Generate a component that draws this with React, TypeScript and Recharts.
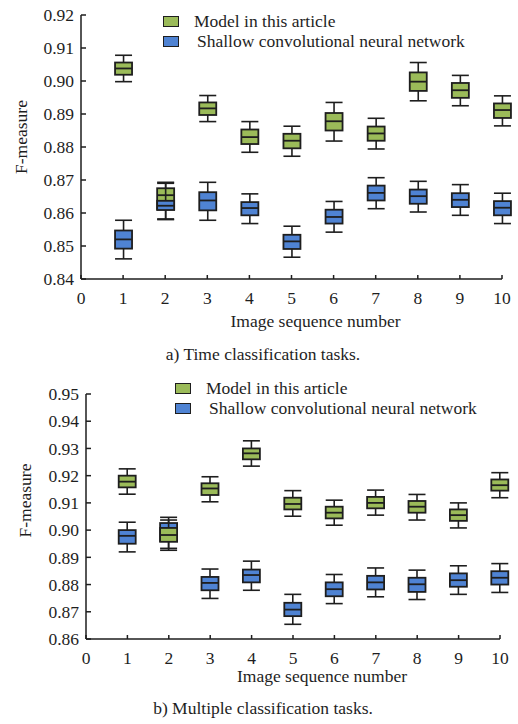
import { ComposedChart, Bar, XAxis, YAxis, Legend, Label } from 'recharts';

const SEQ = [1, 2, 3, 4, 5, 6, 7, 8, 9, 10];
const X_TICKS = [0, 1, 2, 3, 4, 5, 6, 7, 8, 9, 10];
const A_TICKS = [0.84, 0.85, 0.86, 0.87, 0.88, 0.89, 0.9, 0.91, 0.92];
const B_TICKS = [0.86, 0.87, 0.88, 0.89, 0.9, 0.91, 0.92, 0.93, 0.94, 0.95];
const SERIES_NAMES = ['Model in this article', 'Shallow convolutional neural network'];
const SERIES_COLORS = ['#9bbb59', '#4f83d3'];

// each entry: [min, q1, median, q3, max]
const A_MODEL = [
  [0.8998, 0.9019, 0.9038, 0.9056, 0.9078],
  [0.8582, 0.8612, 0.8654, 0.8675, 0.8693],
  [0.8877, 0.8897, 0.8917, 0.8935, 0.8956],
  [0.8784, 0.8809, 0.883, 0.8853, 0.8877],
  [0.8772, 0.8796, 0.8819, 0.884, 0.8863],
  [0.8818, 0.885, 0.8878, 0.8903, 0.8935],
  [0.8794, 0.8819, 0.8841, 0.8862, 0.8887],
  [0.894, 0.897, 0.8998, 0.9026, 0.9056],
  [0.8925, 0.8949, 0.8972, 0.8994, 0.9017],
  [0.8864, 0.8888, 0.8912, 0.8932, 0.8955],
];
const A_CNN = [
  [0.8461, 0.8492, 0.852, 0.8547, 0.8578],
  [0.858, 0.8609, 0.8622, 0.8637, 0.869],
  [0.8578, 0.8608, 0.8638, 0.8663, 0.8693],
  [0.8568, 0.8593, 0.8615, 0.8633, 0.8658],
  [0.8466, 0.8491, 0.8514, 0.8534, 0.856],
  [0.8542, 0.8568, 0.8588, 0.861, 0.8635],
  [0.8613, 0.8638, 0.8661, 0.8683, 0.8707],
  [0.8603, 0.8628, 0.8651, 0.8671, 0.8696],
  [0.8593, 0.8618, 0.864, 0.866, 0.8686],
  [0.8568, 0.8593, 0.8616, 0.8636, 0.866],
];
const B_MODEL = [
  [0.9132, 0.9157, 0.9178, 0.92, 0.9225],
  [0.8933, 0.8957, 0.8982, 0.9008, 0.9037],
  [0.9104, 0.9129, 0.9153, 0.9172, 0.9196],
  [0.9235, 0.926, 0.9282, 0.93, 0.9328],
  [0.9051, 0.9076, 0.9096, 0.9119, 0.9145],
  [0.9018, 0.9043, 0.9064, 0.9086, 0.911],
  [0.9055, 0.908, 0.91, 0.9122, 0.9147],
  [0.9037, 0.9064, 0.9086, 0.9107, 0.9131],
  [0.9008, 0.9034, 0.9055, 0.9076, 0.91],
  [0.9119, 0.9145, 0.9165, 0.9186, 0.9211],
];
const B_CNN = [
  [0.892, 0.895, 0.8979, 0.9, 0.9029],
  [0.8926, 0.896, 0.8995, 0.9026, 0.9047],
  [0.8749, 0.8779, 0.8806, 0.8828, 0.8857],
  [0.8779, 0.8808, 0.8835, 0.8855, 0.8886],
  [0.8654, 0.8684, 0.8708, 0.8733, 0.8764],
  [0.873, 0.8757, 0.8783, 0.8808, 0.8837],
  [0.8755, 0.8782, 0.8808, 0.8832, 0.8861],
  [0.8745, 0.8773, 0.8801, 0.8825, 0.8853],
  [0.8764, 0.8792, 0.8816, 0.8841, 0.8869],
  [0.8771, 0.88, 0.8825, 0.8849, 0.8877],
];

const INK = '#1e1e1e';
const FONT = "'Liberation Serif', 'Times New Roman', serif";
const FS = 17.5;

type Row = { x: number; model: number[]; cnn: number[] };

// box + whiskers; bar spans min..max, inner stats mapped on the same linear scale
function boxShape(field: 'model' | 'cnn', color: string) {
  return (p: any) => {
    const [lo, q1, med, q3, hi] = p.payload[field] as number[];
    const { x, y, width, height } = p;
    const py = (v: number) => y + (height * (hi - v)) / (hi - lo);
    const cx = x + width / 2;
    return (
      <g stroke={INK} strokeWidth={1.6}>
        <line x1={cx} x2={cx} y1={py(hi)} y2={py(lo)} />
        <line x1={x} x2={x + width} y1={py(hi)} y2={py(hi)} />
        <line x1={x} x2={x + width} y1={py(lo)} y2={py(lo)} />
        <rect x={x} y={py(q3)} width={width} height={py(q1) - py(q3)} fill={color} strokeWidth={1.8} />
        <line x1={x} x2={x + width} y1={py(med)} y2={py(med)} strokeWidth={1.8} />
      </g>
    );
  };
}

const yTitle = (cx: number, shift: number) => ({ viewBox }: any) => {
  const y = viewBox.y + viewBox.height / 2 + shift;
  return (
    <text x={cx} y={y} transform={`rotate(-90 ${cx} ${y})`} textAnchor="middle" dominantBaseline="central"
      fill={INK} fontSize={FS} fontFamily={FONT}>F-measure</text>
  );
};

const legendContent = () => (
  <div style={{ fontFamily: FONT, fontSize: FS, color: INK }}>
    {SERIES_NAMES.map((n, i) => (
      <div key={n} style={{ display: 'flex', alignItems: 'center', height: 20, whiteSpace: 'nowrap' }}>
        <span style={{ display: 'inline-block', width: 14, height: 9, background: SERIES_COLORS[i], border: `1.5px solid ${INK}` }} />
        <span style={{ marginLeft: 15 + i * 3 }}>{n}</span>
      </div>
    ))}
  </div>
);

interface PanelProps {
  model: number[][];
  cnn: number[][];
  ticks: number[];
  height: number;
  margin: { top: number; right: number; left: number; bottom: number };
  yWidth: number;
  xHeight: number;
  frontFirst: 'model' | 'cnn';
  legendPos: { top: number; left: number };
  titleX: number;
  titleShift: number;
  xLabelDx: number;
}

function Panel(props: PanelProps) {
  const rows: Row[] = SEQ.map((s, i) => ({ x: s, model: props.model[i], cnn: props.cnn[i] }));
  const order: ('model' | 'cnn')[] = props.frontFirst === 'model' ? ['model', 'cnn'] : ['cnn', 'model'];
  const tickStyle = { fill: INK, fontSize: FS, fontFamily: FONT };
  const line = { stroke: INK, strokeWidth: 1.5 };
  return (
    <ComposedChart width={518} height={props.height} data={rows} margin={props.margin}>
      <XAxis xAxisId="a" type="number" dataKey="x" domain={[0, 10]} ticks={X_TICKS} interval={0}
        height={props.xHeight} tick={tickStyle} axisLine={line} tickLine={line} tickSize={-4} tickMargin={17}>
        <Label value="Image sequence number" position="insideBottom" offset={0} dx={props.xLabelDx}
          style={{ fill: INK, fontSize: FS, fontFamily: FONT }} />
      </XAxis>
      <XAxis xAxisId="b" type="number" dataKey="x" domain={[0, 10]} hide />
      <YAxis type="number" domain={[props.ticks[0], props.ticks[props.ticks.length - 1]]} ticks={props.ticks}
        interval={0} width={props.yWidth} tick={tickStyle} axisLine={line} tickLine={line} tickSize={-5}
        tickMargin={12} tickFormatter={(v: number) => v.toFixed(2)}>
        <Label content={yTitle(props.titleX, props.titleShift)} />
      </YAxis>
      {order.map((f, k) => (
        <Bar key={f} xAxisId={k === 0 ? 'a' : 'b'} dataKey={(r: Row) => [r[f][0], r[f][4]]} barSize={17}
          shape={boxShape(f, SERIES_COLORS[f === 'model' ? 0 : 1])} isAnimationActive={false} />
      ))}
      <Legend layout="vertical" align="center" verticalAlign="middle" content={legendContent}
        wrapperStyle={{ top: props.legendPos.top, left: props.legendPos.left, width: 'auto', height: 'auto' }} />
    </ComposedChart>
  );
}

const captionStyle = (top: number) => ({
  position: 'absolute' as const, top, left: 0, width: 526, textAlign: 'center' as const,
  fontFamily: FONT, fontSize: FS, lineHeight: '20px', color: INK,
});

export default function App() {
  return (
    <div style={{ position: 'absolute', left: 0, top: 0, width: 518, height: 724, background: '#fff' }}>
      <div style={{ position: 'absolute', left: 0, top: 0 }}>
        <Panel model={A_MODEL} cnn={A_CNN} ticks={A_TICKS} height={334}
          margin={{ top: 15, right: 16, left: 0, bottom: 7 }} yWidth={81} xHeight={48}
          frontFirst="model" legendPos={{ top: 11, left: 163 }} titleX={21} titleShift={-10} xLabelDx={24} />
      </div>
      <div style={captionStyle(344)}>a) Time classification tasks.</div>
      <div style={{ position: 'absolute', left: 0, top: 360 }}>
        <Panel model={B_MODEL} cnn={B_CNN} ticks={B_TICKS} height={329}
          margin={{ top: 34, right: 18, left: 0, bottom: 7 }} yWidth={86} xHeight={43}
          frontFirst="cnn" legendPos={{ top: 18, left: 175 }} titleX={25} titleShift={-16} xLabelDx={29} />
      </div>
      <div style={captionStyle(698)}>b) Multiple classification tasks.</div>
    </div>
  );
}
